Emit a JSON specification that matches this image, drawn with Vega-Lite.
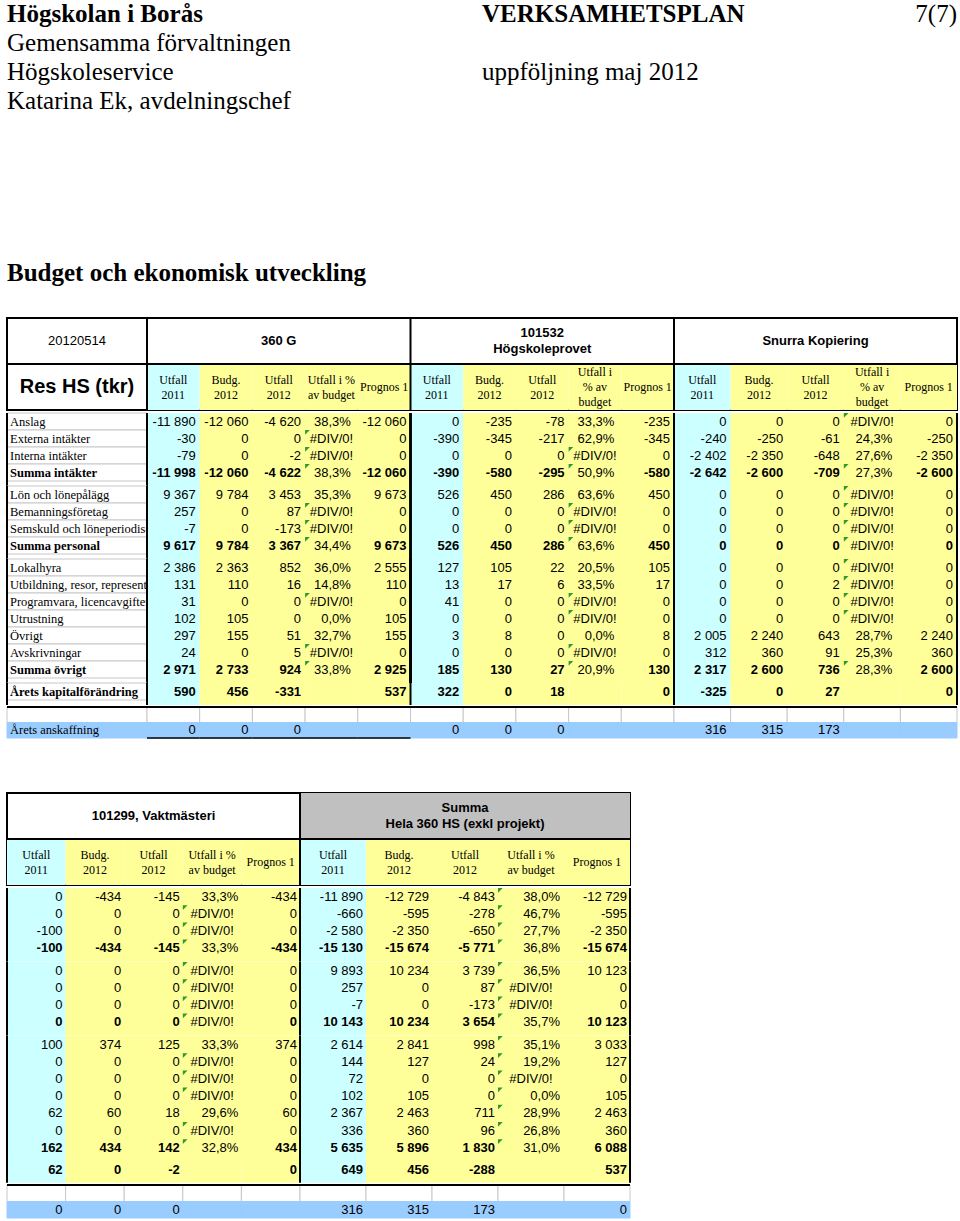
{
"$schema":"https://vega.github.io/schema/vega-lite/v6.json",
"padding":{"left":5,"right":5,"top":0,"bottom":0},
"background":"white",
"config":{"view":{"stroke":null}},
"spacing":0,
"datasets":{
"top":[
{"line":"1","pos":"L","w":"b","t":"Högskolan i Borås"},
{"line":"1","pos":"M","w":"b","t":"VERKSAMHETSPLAN"},
{"line":"1","pos":"R","w":"n","t":"7(7)"},
{"line":"2","pos":"L","w":"n","t":"Gemensamma förvaltningen"},
{"line":"3","pos":"L","w":"n","t":"Högskoleservice"},
{"line":"3","pos":"M","w":"n","t":"uppföljning maj 2012"},
{"line":"4","pos":"L","w":"n","t":"Katarina Ek, avdelningschef"},
{"line":"10","pos":"L","w":"b","t":"Budget och ekonomisk utveckling"}],
"t1h":[
{"r":"h1","key":"lab","t":"20120514"},
{"r":"h1","key":"G3","t":"360 G"},
{"r":"h1","key":"P3","t":["101532","Högskoleprovet"]},
{"r":"h1","key":"S3","t":"Snurra Kopiering"},
{"r":"h2","key":"lab","t":"Res HS (tkr)"},
{"r":"h2","key":"G1","t":["Utfall","2011"]},
{"r":"h2","key":"G2","t":["Budg.","2012"]},
{"r":"h2","key":"G3","t":["Utfall","2012"]},
{"r":"h2","key":"G4","t":["Utfall i %","av budget"]},
{"r":"h2","key":"G5","t":"Prognos 1"},
{"r":"h2","key":"P1","t":["Utfall","2011"]},
{"r":"h2","key":"P2","t":["Budg.","2012"]},
{"r":"h2","key":"P3","t":["Utfall","2012"]},
{"r":"h2","key":"P4","t":["Utfall i","% av","budget"]},
{"r":"h2","key":"P5","t":"Prognos 1"},
{"r":"h2","key":"S1","t":["Utfall","2011"]},
{"r":"h2","key":"S2","t":["Budg.","2012"]},
{"r":"h2","key":"S3","t":["Utfall","2012"]},
{"r":"h2","key":"S4","t":["Utfall i","% av","budget"]},
{"r":"h2","key":"S5","t":"Prognos 1"}],
"t1":[
{"sec":"s1","r":"Anslag","b":0,"tS":1,"G1":"-11 890","G2":"-12 060","G3":"-4 620","G4":"38,3%","G5":"-12 060","P1":"0","P2":"-235","P3":"-78","P4":"33,3%","P5":"-235","S1":"0","S2":"0","S3":"0","S4":"#DIV/0!","S5":"0"},
{"sec":"s1","r":"Externa intäkter","b":0,"tG":1,"G1":"-30","G2":"0","G3":"0","G4":"#DIV/0!","G5":"0","P1":"-390","P2":"-345","P3":"-217","P4":"62,9%","P5":"-345","S1":"-240","S2":"-250","S3":"-61","S4":"24,3%","S5":"-250"},
{"sec":"s1","r":"Interna intäkter","b":0,"tG":1,"tP":1,"G1":"-79","G2":"0","G3":"-2","G4":"#DIV/0!","G5":"0","P1":"0","P2":"0","P3":"0","P4":"#DIV/0!","P5":"0","S1":"-2 402","S2":"-2 350","S3":"-648","S4":"27,6%","S5":"-2 350"},
{"sec":"s1","r":"Summa intäkter","b":1,"tG":1,"tP":1,"tS":1,"G1":"-11 998","G2":"-12 060","G3":"-4 622","G4":"38,3%","G5":"-12 060","P1":"-390","P2":"-580","P3":"-295","P4":"50,9%","P5":"-580","S1":"-2 642","S2":"-2 600","S3":"-709","S4":"27,3%","S5":"-2 600"},
{"sec":"s2","r":"Lön och lönepålägg","b":0,"tS":1,"G1":"9 367","G2":"9 784","G3":"3 453","G4":"35,3%","G5":"9 673","P1":"526","P2":"450","P3":"286","P4":"63,6%","P5":"450","S1":"0","S2":"0","S3":"0","S4":"#DIV/0!","S5":"0"},
{"sec":"s2","r":"Bemanningsföretag","b":0,"tG":1,"tP":1,"tS":1,"G1":"257","G2":"0","G3":"87","G4":"#DIV/0!","G5":"0","P1":"0","P2":"0","P3":"0","P4":"#DIV/0!","P5":"0","S1":"0","S2":"0","S3":"0","S4":"#DIV/0!","S5":"0"},
{"sec":"s2","r":"Semskuld och löneperiodisering","b":0,"tG":1,"tP":1,"tS":1,"G1":"-7","G2":"0","G3":"-173","G4":"#DIV/0!","G5":"0","P1":"0","P2":"0","P3":"0","P4":"#DIV/0!","P5":"0","S1":"0","S2":"0","S3":"0","S4":"#DIV/0!","S5":"0"},
{"sec":"s2","r":"Summa personal","b":1,"tG":1,"tP":1,"tS":1,"G1":"9 617","G2":"9 784","G3":"3 367","G4":"34,4%","G5":"9 673","P1":"526","P2":"450","P3":"286","P4":"63,6%","P5":"450","S1":"0","S2":"0","S3":"0","S4":"#DIV/0!","S5":"0"},
{"sec":"s3","r":"Lokalhyra","b":0,"tS":1,"G1":"2 386","G2":"2 363","G3":"852","G4":"36,0%","G5":"2 555","P1":"127","P2":"105","P3":"22","P4":"20,5%","P5":"105","S1":"0","S2":"0","S3":"0","S4":"#DIV/0!","S5":"0"},
{"sec":"s3","r":"Utbildning, resor, representation","b":0,"tS":1,"G1":"131","G2":"110","G3":"16","G4":"14,8%","G5":"110","P1":"13","P2":"17","P3":"6","P4":"33,5%","P5":"17","S1":"0","S2":"0","S3":"2","S4":"#DIV/0!","S5":"0"},
{"sec":"s3","r":"Programvara, licencavgifter och","b":0,"tG":1,"tP":1,"tS":1,"G1":"31","G2":"0","G3":"0","G4":"#DIV/0!","G5":"0","P1":"41","P2":"0","P3":"0","P4":"#DIV/0!","P5":"0","S1":"0","S2":"0","S3":"0","S4":"#DIV/0!","S5":"0"},
{"sec":"s3","r":"Utrustning","b":0,"tP":1,"tS":1,"G1":"102","G2":"105","G3":"0","G4":"0,0%","G5":"105","P1":"0","P2":"0","P3":"0","P4":"#DIV/0!","P5":"0","S1":"0","S2":"0","S3":"0","S4":"#DIV/0!","S5":"0"},
{"sec":"s3","r":"Övrigt","b":0,"G1":"297","G2":"155","G3":"51","G4":"32,7%","G5":"155","P1":"3","P2":"8","P3":"0","P4":"0,0%","P5":"8","S1":"2 005","S2":"2 240","S3":"643","S4":"28,7%","S5":"2 240"},
{"sec":"s3","r":"Avskrivningar","b":0,"tG":1,"tP":1,"G1":"24","G2":"0","G3":"5","G4":"#DIV/0!","G5":"0","P1":"0","P2":"0","P3":"0","P4":"#DIV/0!","P5":"0","S1":"312","S2":"360","S3":"91","S4":"25,3%","S5":"360"},
{"sec":"s3","r":"Summa övrigt","b":1,"tG":1,"tP":1,"tS":1,"G1":"2 971","G2":"2 733","G3":"924","G4":"33,8%","G5":"2 925","P1":"185","P2":"130","P3":"27","P4":"20,9%","P5":"130","S1":"2 317","S2":"2 600","S3":"736","S4":"28,3%","S5":"2 600"},
{"sec":"s4","r":"Årets kapitalförändring","b":1,"G1":"590","G2":"456","G3":"-331","G4":"","G5":"537","P1":"322","P2":"0","P3":"18","P4":"","P5":"0","S1":"-325","S2":"0","S3":"27","S4":"","S5":"0"}],
"t1s":[
{"r":"blank"},
{"r":"ansk","lbl":"Årets anskaffning","G1":"0","G2":"0","G3":"0","P1":"0","P2":"0","P3":"0","S1":"316","S2":"315","S3":"173"}],
"t2h":[
{"r":"h1","key":"V3","t":"101299, Vaktmästeri"},
{"r":"h1","key":"H1","t":""},
{"r":"h1","key":"H2","t":""},
{"r":"h1","key":"H3","t":["Summa","Hela 360 HS (exkl projekt)"]},
{"r":"h1","key":"H4","t":""},
{"r":"h1","key":"H5","t":""},
{"r":"h2","key":"V1","t":["Utfall","2011"]},
{"r":"h2","key":"V2","t":["Budg.","2012"]},
{"r":"h2","key":"V3","t":["Utfall","2012"]},
{"r":"h2","key":"V4","t":["Utfall i %","av budget"]},
{"r":"h2","key":"V5","t":"Prognos 1"},
{"r":"h2","key":"H1","t":["Utfall","2011"]},
{"r":"h2","key":"H2","t":["Budg.","2012"]},
{"r":"h2","key":"H3","t":["Utfall","2012"]},
{"r":"h2","key":"H4","t":["Utfall i %","av budget"]},
{"r":"h2","key":"H5","t":"Prognos 1"}],
"t2":[
{"sec":"s1","r":"Anslag","b":0,"tH":1,"V1":"0","V2":"-434","V3":"-145","V4":"33,3%","V5":"-434","H1":"-11 890","H2":"-12 729","H3":"-4 843","H4":"38,0%","H5":"-12 729"},
{"sec":"s1","r":"Externa intäkter","b":0,"tV":1,"tH":1,"V1":"0","V2":"0","V3":"0","V4":"#DIV/0!","V5":"0","H1":"-660","H2":"-595","H3":"-278","H4":"46,7%","H5":"-595"},
{"sec":"s1","r":"Interna intäkter","b":0,"tV":1,"tH":1,"V1":"-100","V2":"0","V3":"0","V4":"#DIV/0!","V5":"0","H1":"-2 580","H2":"-2 350","H3":"-650","H4":"27,7%","H5":"-2 350"},
{"sec":"s1","r":"Summa intäkter","b":1,"tV":1,"tH":1,"V1":"-100","V2":"-434","V3":"-145","V4":"33,3%","V5":"-434","H1":"-15 130","H2":"-15 674","H3":"-5 771","H4":"36,8%","H5":"-15 674"},
{"sec":"s2","r":"Lön och lönepålägg","b":0,"tV":1,"tH":1,"V1":"0","V2":"0","V3":"0","V4":"#DIV/0!","V5":"0","H1":"9 893","H2":"10 234","H3":"3 739","H4":"36,5%","H5":"10 123"},
{"sec":"s2","r":"Bemanningsföretag","b":0,"tV":1,"tH":1,"V1":"0","V2":"0","V3":"0","V4":"#DIV/0!","V5":"0","H1":"257","H2":"0","H3":"87","H4":"#DIV/0!","H5":"0"},
{"sec":"s2","r":"Semskuld och löneperiodisering","b":0,"tV":1,"tH":1,"V1":"0","V2":"0","V3":"0","V4":"#DIV/0!","V5":"0","H1":"-7","H2":"0","H3":"-173","H4":"#DIV/0!","H5":"0"},
{"sec":"s2","r":"Summa personal","b":1,"tV":1,"tH":1,"V1":"0","V2":"0","V3":"0","V4":"#DIV/0!","V5":"0","H1":"10 143","H2":"10 234","H3":"3 654","H4":"35,7%","H5":"10 123"},
{"sec":"s3","r":"Lokalhyra","b":0,"tH":1,"V1":"100","V2":"374","V3":"125","V4":"33,3%","V5":"374","H1":"2 614","H2":"2 841","H3":"998","H4":"35,1%","H5":"3 033"},
{"sec":"s3","r":"Utbildning, resor, representation","b":0,"tV":1,"tH":1,"V1":"0","V2":"0","V3":"0","V4":"#DIV/0!","V5":"0","H1":"144","H2":"127","H3":"24","H4":"19,2%","H5":"127"},
{"sec":"s3","r":"Programvara, licencavgifter och","b":0,"tV":1,"tH":1,"V1":"0","V2":"0","V3":"0","V4":"#DIV/0!","V5":"0","H1":"72","H2":"0","H3":"0","H4":"#DIV/0!","H5":"0"},
{"sec":"s3","r":"Utrustning","b":0,"tV":1,"tH":1,"V1":"0","V2":"0","V3":"0","V4":"#DIV/0!","V5":"0","H1":"102","H2":"105","H3":"0","H4":"0,0%","H5":"105"},
{"sec":"s3","r":"Övrigt","b":0,"tH":1,"V1":"62","V2":"60","V3":"18","V4":"29,6%","V5":"60","H1":"2 367","H2":"2 463","H3":"711","H4":"28,9%","H5":"2 463"},
{"sec":"s3","r":"Avskrivningar","b":0,"tV":1,"tH":1,"V1":"0","V2":"0","V3":"0","V4":"#DIV/0!","V5":"0","H1":"336","H2":"360","H3":"96","H4":"26,8%","H5":"360"},
{"sec":"s3","r":"Summa övrigt","b":1,"tV":1,"tH":1,"V1":"162","V2":"434","V3":"142","V4":"32,8%","V5":"434","H1":"5 635","H2":"5 896","H3":"1 830","H4":"31,0%","H5":"6 088"},
{"sec":"s4","r":"Årets kapitalförändring","b":1,"V1":"62","V2":"0","V3":"-2","V4":"","V5":"0","H1":"649","H2":"456","H3":"-288","H4":"","H5":"537"}],
"t2s":[
{"r":"blank"},
{"r":"ansk","V1":"0","V2":"0","V3":"0","H1":"316","H2":"315","H3":"173","H5":"0"}]
},
"vconcat":[
{
"data":{"name":"top"},
"width":950,"height":316,
"encoding":{
"x":{"field":"pos","type":"nominal","axis":null,"scale":{"type":"point","domain":["L","M","R"],"padding":0}},
"y":{"field":"line","type":"nominal","axis":null,"scale":{"type":"band","domain":["1","2","3","4","5","6","7","8","9","10","11"],"paddingInner":0,"paddingOuter":0}},
"text":{"field":"t"}},
"layer":[
{"transform":[{"filter":"datum.w=='b'"}],"mark":{"type":"text","align":"left","baseline":"middle","font":"Liberation Serif","fontSize":25,"fontWeight":"bold"}},
{"transform":[{"filter":"datum.w=='n' && datum.pos!='R'"}],"mark":{"type":"text","align":"left","baseline":"middle","font":"Liberation Serif","fontSize":25}},
{"transform":[{"filter":"datum.pos=='R'"}],"mark":{"type":"text","align":"right","baseline":"middle","font":"Liberation Serif","fontSize":25}}
]
},
{"spacing":50,"vconcat":[
{"spacing":0,"vconcat":[
{
"data":{"name":"t1h"},
"width":950,"height":92,
"view":{"stroke":"black","strokeWidth":2},
"resolve":{"scale":{"x":"independent"}},
"layer":[
{"transform":[{"filter":"datum.r=='h2' && datum.key!='lab' && datum.key<'S'"}],"mark":{"type":"rect"},
"encoding":{"x":{"field":"key","type":"nominal","axis":null,"scale":{"type":"band","domain":["G1","G2","G3","G4","G5","P1","P2","P3","P4","P5"],"range":[140,667],"paddingInner":0,"paddingOuter":0}},
"y":{"field":"r","type":"nominal","axis":null,"scale":{"type":"band","domain":["h1","h2"],"paddingInner":0,"paddingOuter":0}},
"fill":{"condition":{"test":"datum.key=='G1'||datum.key=='P1'||datum.key=='S1'","value":"#ccffff"},"value":"#ffff99"}}},
{"transform":[{"filter":"datum.r=='h2' && datum.key!='lab' && datum.key>='S'"}],"mark":{"type":"rect"},
"encoding":{"x":{"field":"key","type":"nominal","axis":null,"scale":{"type":"band","domain":["S1","S2","S3","S4","S5"],"range":[667,950],"paddingInner":0,"paddingOuter":0}},
"y":{"field":"r","type":"nominal","axis":null,"scale":{"type":"band","domain":["h1","h2"],"paddingInner":0,"paddingOuter":0}},
"fill":{"condition":{"test":"datum.key=='G1'||datum.key=='P1'||datum.key=='S1'","value":"#ccffff"},"value":"#ffff99"}}},
{"transform":[{"filter":"datum.key=='lab' && datum.r=='h1'"}],"mark":{"type":"text","font":"Liberation Sans","fontSize":13},
"encoding":{"x":{"field":"key","type":"nominal","axis":null,"scale":{"type":"band","domain":["lab"],"range":[0,140],"paddingInner":0,"paddingOuter":0}},
"y":{"field":"r","type":"nominal","axis":null,"scale":{"type":"band","domain":["h1","h2"],"paddingInner":0,"paddingOuter":0}},"text":{"field":"t"}}},
{"transform":[{"filter":"datum.key=='lab' && datum.r=='h2'"}],"mark":{"type":"text","font":"Liberation Sans","fontSize":20,"fontWeight":"bold"},
"encoding":{"x":{"field":"key","type":"nominal","axis":null,"scale":{"type":"band","domain":["lab"],"range":[0,140],"paddingInner":0,"paddingOuter":0}},
"y":{"field":"r","type":"nominal","axis":null,"scale":{"type":"band","domain":["h1","h2"],"paddingInner":0,"paddingOuter":0}},"text":{"field":"t"}}},
{"transform":[{"filter":"datum.r=='h1' && datum.key=='G3'"}],"mark":{"type":"text","font":"Liberation Sans","fontSize":13,"fontWeight":"bold"},
"encoding":{"x":{"field":"key","type":"nominal","axis":null,"scale":{"type":"band","domain":["G1","G2","G3","G4","G5","P1","P2","P3","P4","P5"],"range":[140,667],"paddingInner":0,"paddingOuter":0}},
"y":{"field":"r","type":"nominal","axis":null,"scale":{"type":"band","domain":["h1","h2"],"paddingInner":0,"paddingOuter":0}},"text":{"field":"t"}}},
{"transform":[{"filter":"datum.r=='h1' && datum.key=='P3'"}],"mark":{"type":"text","font":"Liberation Sans","fontSize":13,"fontWeight":"bold","lineHeight":16,"dy":-8},
"encoding":{"x":{"field":"key","type":"nominal","axis":null,"scale":{"type":"band","domain":["G1","G2","G3","G4","G5","P1","P2","P3","P4","P5"],"range":[140,667],"paddingInner":0,"paddingOuter":0}},
"y":{"field":"r","type":"nominal","axis":null,"scale":{"type":"band","domain":["h1","h2"],"paddingInner":0,"paddingOuter":0}},"text":{"field":"t"}}},
{"transform":[{"filter":"datum.r=='h1' && datum.key=='S3'"}],"mark":{"type":"text","font":"Liberation Sans","fontSize":13,"fontWeight":"bold"},
"encoding":{"x":{"field":"key","type":"nominal","axis":null,"scale":{"type":"band","domain":["S1","S2","S3","S4","S5"],"range":[667,950],"paddingInner":0,"paddingOuter":0}},
"y":{"field":"r","type":"nominal","axis":null,"scale":{"type":"band","domain":["h1","h2"],"paddingInner":0,"paddingOuter":0}},"text":{"field":"t"}}},
{"transform":[{"filter":"datum.r=='h2' && datum.key!='lab' && datum.key<'S' && datum.key!='G5' && datum.key!='P5' && datum.key!='P4'"}],"mark":{"type":"text","font":"Liberation Serif","fontSize":12,"lineHeight":15,"dy":-7.5},
"encoding":{"x":{"field":"key","type":"nominal","axis":null,"scale":{"type":"band","domain":["G1","G2","G3","G4","G5","P1","P2","P3","P4","P5"],"range":[140,667],"paddingInner":0,"paddingOuter":0}},
"y":{"field":"r","type":"nominal","axis":null,"scale":{"type":"band","domain":["h1","h2"],"paddingInner":0,"paddingOuter":0}},"text":{"field":"t"}}},
{"transform":[{"filter":"datum.r=='h2' && (datum.key=='G5' || datum.key=='P5')"}],"mark":{"type":"text","font":"Liberation Serif","fontSize":12},
"encoding":{"x":{"field":"key","type":"nominal","axis":null,"scale":{"type":"band","domain":["G1","G2","G3","G4","G5","P1","P2","P3","P4","P5"],"range":[140,667],"paddingInner":0,"paddingOuter":0}},
"y":{"field":"r","type":"nominal","axis":null,"scale":{"type":"band","domain":["h1","h2"],"paddingInner":0,"paddingOuter":0}},"text":{"field":"t"}}},
{"transform":[{"filter":"datum.r=='h2' && datum.key=='P4'"}],"mark":{"type":"text","font":"Liberation Serif","fontSize":12,"lineHeight":15,"dy":-15},
"encoding":{"x":{"field":"key","type":"nominal","axis":null,"scale":{"type":"band","domain":["G1","G2","G3","G4","G5","P1","P2","P3","P4","P5"],"range":[140,667],"paddingInner":0,"paddingOuter":0}},
"y":{"field":"r","type":"nominal","axis":null,"scale":{"type":"band","domain":["h1","h2"],"paddingInner":0,"paddingOuter":0}},"text":{"field":"t"}}},
{"transform":[{"filter":"datum.r=='h2' && (datum.key=='S1' || datum.key=='S2' || datum.key=='S3')"}],"mark":{"type":"text","font":"Liberation Serif","fontSize":12,"lineHeight":15,"dy":-7.5},
"encoding":{"x":{"field":"key","type":"nominal","axis":null,"scale":{"type":"band","domain":["S1","S2","S3","S4","S5"],"range":[667,950],"paddingInner":0,"paddingOuter":0}},
"y":{"field":"r","type":"nominal","axis":null,"scale":{"type":"band","domain":["h1","h2"],"paddingInner":0,"paddingOuter":0}},"text":{"field":"t"}}},
{"transform":[{"filter":"datum.r=='h2' && datum.key=='S4'"}],"mark":{"type":"text","font":"Liberation Serif","fontSize":12,"lineHeight":15,"dy":-15},
"encoding":{"x":{"field":"key","type":"nominal","axis":null,"scale":{"type":"band","domain":["S1","S2","S3","S4","S5"],"range":[667,950],"paddingInner":0,"paddingOuter":0}},
"y":{"field":"r","type":"nominal","axis":null,"scale":{"type":"band","domain":["h1","h2"],"paddingInner":0,"paddingOuter":0}},"text":{"field":"t"}}},
{"transform":[{"filter":"datum.r=='h2' && datum.key=='S5'"}],"mark":{"type":"text","font":"Liberation Serif","fontSize":12},
"encoding":{"x":{"field":"key","type":"nominal","axis":null,"scale":{"type":"band","domain":["S1","S2","S3","S4","S5"],"range":[667,950],"paddingInner":0,"paddingOuter":0}},
"y":{"field":"r","type":"nominal","axis":null,"scale":{"type":"band","domain":["h1","h2"],"paddingInner":0,"paddingOuter":0}},"text":{"field":"t"}}},
{"transform":[{"filter":"datum.r=='h2' && datum.key=='lab'"}],"mark":{"type":"rule","stroke":"black","strokeWidth":2},
"encoding":{"y":{"field":"r","type":"nominal","axis":null,"bandPosition":0,"scale":{"type":"band","domain":["h1","h2"],"paddingInner":0,"paddingOuter":0}}}},
{"transform":[{"filter":"datum.r=='h2' && datum.key=='lab'"}],"mark":{"type":"rule","stroke":"black","strokeWidth":2},
"encoding":{"x":{"field":"key","type":"nominal","axis":null,"bandPosition":1,"scale":{"type":"band","domain":["lab"],"range":[0,140],"paddingInner":0,"paddingOuter":0}}}},
{"transform":[{"filter":"datum.r=='h2' && (datum.key=='G5' || datum.key=='P5')"}],"mark":{"type":"rule","stroke":"black","strokeWidth":2},
"encoding":{"x":{"field":"key","type":"nominal","axis":null,"bandPosition":1,"scale":{"type":"band","domain":["G1","G2","G3","G4","G5","P1","P2","P3","P4","P5"],"range":[140,667],"paddingInner":0,"paddingOuter":0}}}}
]
},
{
"data":{"name":"t1"},
"transform":[{"fold":["G1","G2","G3","G4","G5","P1","P2","P3","P4","P5","S1","S2","S3","S4","S5"],"as":["key","v"]}],
"facet":{"row":{"field":"sec","type":"nominal","title":null,"header":{"labels":false,"title":null}}},
"spacing":{"row":0},
"bounds":"flush",
"resolve":{"scale":{"y":"independent","x":"independent"}},
"spec":{
"width":950,"height":{"step":17},
"resolve":{"scale":{"x":"independent"}},
"layer":[
{"transform":[{"filter":"datum.key=='G1'"}],"mark":{"type":"rect","fill":"white","stroke":"#c8c8c8","strokeWidth":1},
"encoding":{"x":{"datum":"lab","type":"nominal","axis":null,"scale":{"type":"band","domain":["lab"],"range":[0,140],"paddingInner":0,"paddingOuter":0}},
"y":{"field":"r","type":"nominal","axis":null,"sort":null,"scale":{"type":"band","paddingInner":0,"paddingOuter":0.147,"align":0}}}},
{"transform":[{"filter":"datum.key=='G1' && datum.b==0"}],"mark":{"type":"text","align":"left","dx":3,"font":"Liberation Serif","fontSize":12.5},
"encoding":{"x":{"datum":"lab","type":"nominal","axis":null,"bandPosition":0,"scale":{"type":"band","domain":["lab"],"range":[0,140],"paddingInner":0,"paddingOuter":0}},
"y":{"field":"r","type":"nominal","axis":null,"sort":null,"scale":{"type":"band","paddingInner":0,"paddingOuter":0.147,"align":0}},"text":{"field":"r"}}},
{"transform":[{"filter":"datum.key=='G1' && datum.b==1"}],"mark":{"type":"text","align":"left","dx":3,"font":"Liberation Serif","fontSize":12.5,"fontWeight":"bold"},
"encoding":{"x":{"datum":"lab","type":"nominal","axis":null,"bandPosition":0,"scale":{"type":"band","domain":["lab"],"range":[0,140],"paddingInner":0,"paddingOuter":0}},
"y":{"field":"r","type":"nominal","axis":null,"sort":null,"scale":{"type":"band","paddingInner":0,"paddingOuter":0.147,"align":0}},"text":{"field":"r"}}},
{"transform":[{"filter":"datum.key<'S'"}],"mark":{"type":"rect"},
"encoding":{"x":{"field":"key","type":"nominal","axis":null,"scale":{"type":"band","domain":["G1","G2","G3","G4","G5","P1","P2","P3","P4","P5"],"range":[140,667],"paddingInner":0,"paddingOuter":0}},
"fill":{"condition":{"test":"datum.key=='G1'||datum.key=='P1'||datum.key=='S1'","value":"#ccffff"},"value":"#ffff99"}}},
{"transform":[{"filter":"datum.key>='S'"}],"mark":{"type":"rect"},
"encoding":{"x":{"field":"key","type":"nominal","axis":null,"scale":{"type":"band","domain":["S1","S2","S3","S4","S5"],"range":[667,950],"paddingInner":0,"paddingOuter":0}},
"fill":{"condition":{"test":"datum.key=='G1'||datum.key=='P1'||datum.key=='S1'","value":"#ccffff"},"value":"#ffff99"}}},
{"transform":[{"filter":"datum.key<'S' && datum.key!='G4' && datum.key!='P4' && datum.b==0"}],"mark":{"type":"text","align":"right","dx":-4,"font":"Liberation Sans","fontSize":13},
"encoding":{"x":{"field":"key","type":"nominal","axis":null,"bandPosition":1,"scale":{"type":"band","domain":["G1","G2","G3","G4","G5","P1","P2","P3","P4","P5"],"range":[140,667],"paddingInner":0,"paddingOuter":0}},
"y":{"field":"r","type":"nominal","axis":null,"sort":null,"scale":{"type":"band","paddingInner":0,"paddingOuter":0.147,"align":0}},"text":{"field":"v"}}},
{"transform":[{"filter":"datum.key<'S' && datum.key!='G4' && datum.key!='P4' && datum.b==1"}],"mark":{"type":"text","align":"right","dx":-4,"font":"Liberation Sans","fontSize":13,"fontWeight":"bold"},
"encoding":{"x":{"field":"key","type":"nominal","axis":null,"bandPosition":1,"scale":{"type":"band","domain":["G1","G2","G3","G4","G5","P1","P2","P3","P4","P5"],"range":[140,667],"paddingInner":0,"paddingOuter":0}},
"y":{"field":"r","type":"nominal","axis":null,"sort":null,"scale":{"type":"band","paddingInner":0,"paddingOuter":0.147,"align":0}},"text":{"field":"v"}}},
{"transform":[{"filter":"(datum.key=='G4' || datum.key=='P4') && datum.v!='#DIV/0!'"}],"mark":{"type":"text","align":"right","dx":-7,"font":"Liberation Sans","fontSize":13},
"encoding":{"x":{"field":"key","type":"nominal","axis":null,"bandPosition":1,"scale":{"type":"band","domain":["G1","G2","G3","G4","G5","P1","P2","P3","P4","P5"],"range":[140,667],"paddingInner":0,"paddingOuter":0}},
"y":{"field":"r","type":"nominal","axis":null,"sort":null,"scale":{"type":"band","paddingInner":0,"paddingOuter":0.147,"align":0}},"text":{"field":"v"}}},
{"transform":[{"filter":"datum.key<'S' && datum.v=='#DIV/0!'"}],"mark":{"type":"text","align":"center","font":"Liberation Sans","fontSize":13},
"encoding":{"x":{"field":"key","type":"nominal","axis":null,"scale":{"type":"band","domain":["G1","G2","G3","G4","G5","P1","P2","P3","P4","P5"],"range":[140,667],"paddingInner":0,"paddingOuter":0}},
"y":{"field":"r","type":"nominal","axis":null,"sort":null,"scale":{"type":"band","paddingInner":0,"paddingOuter":0.147,"align":0}},"text":{"field":"v"}}},
{"transform":[{"filter":"datum.key>='S' && datum.key!='S4' && datum.b==0"}],"mark":{"type":"text","align":"right","dx":-4,"font":"Liberation Sans","fontSize":13},
"encoding":{"x":{"field":"key","type":"nominal","axis":null,"bandPosition":1,"scale":{"type":"band","domain":["S1","S2","S3","S4","S5"],"range":[667,950],"paddingInner":0,"paddingOuter":0}},
"y":{"field":"r","type":"nominal","axis":null,"sort":null,"scale":{"type":"band","paddingInner":0,"paddingOuter":0.147,"align":0}},"text":{"field":"v"}}},
{"transform":[{"filter":"datum.key>='S' && datum.key!='S4' && datum.b==1"}],"mark":{"type":"text","align":"right","dx":-4,"font":"Liberation Sans","fontSize":13,"fontWeight":"bold"},
"encoding":{"x":{"field":"key","type":"nominal","axis":null,"bandPosition":1,"scale":{"type":"band","domain":["S1","S2","S3","S4","S5"],"range":[667,950],"paddingInner":0,"paddingOuter":0}},
"y":{"field":"r","type":"nominal","axis":null,"sort":null,"scale":{"type":"band","paddingInner":0,"paddingOuter":0.147,"align":0}},"text":{"field":"v"}}},
{"transform":[{"filter":"datum.key=='S4' && datum.v!='#DIV/0!'"}],"mark":{"type":"text","align":"right","dx":-8,"font":"Liberation Sans","fontSize":13},
"encoding":{"x":{"field":"key","type":"nominal","axis":null,"bandPosition":1,"scale":{"type":"band","domain":["S1","S2","S3","S4","S5"],"range":[667,950],"paddingInner":0,"paddingOuter":0}},
"y":{"field":"r","type":"nominal","axis":null,"sort":null,"scale":{"type":"band","paddingInner":0,"paddingOuter":0.147,"align":0}},"text":{"field":"v"}}},
{"transform":[{"filter":"datum.key>='S' && datum.v=='#DIV/0!'"}],"mark":{"type":"text","align":"center","font":"Liberation Sans","fontSize":13},
"encoding":{"x":{"field":"key","type":"nominal","axis":null,"scale":{"type":"band","domain":["S1","S2","S3","S4","S5"],"range":[667,950],"paddingInner":0,"paddingOuter":0}},
"y":{"field":"r","type":"nominal","axis":null,"sort":null,"scale":{"type":"band","paddingInner":0,"paddingOuter":0.147,"align":0}},"text":{"field":"v"}}},
{"transform":[{"filter":"(datum.key=='G4' && datum.tG==1) || (datum.key=='P4' && datum.tP==1)"}],"mark":{"type":"point","shape":"M0,0L1,0L0,1Z","filled":true,"fill":"#2e9a2e","size":90,"opacity":1,"strokeWidth":0},
"encoding":{"x":{"field":"key","type":"nominal","axis":null,"bandPosition":0,"scale":{"type":"band","domain":["G1","G2","G3","G4","G5","P1","P2","P3","P4","P5"],"range":[140,667],"paddingInner":0,"paddingOuter":0}},
"y":{"field":"r","type":"nominal","axis":null,"sort":null,"bandPosition":0,"scale":{"type":"band","paddingInner":0,"paddingOuter":0.147,"align":0}}}},
{"transform":[{"filter":"datum.key=='S4' && datum.tS==1"}],"mark":{"type":"point","shape":"M0,0L1,0L0,1Z","filled":true,"fill":"#2e9a2e","size":90,"opacity":1,"strokeWidth":0},
"encoding":{"x":{"field":"key","type":"nominal","axis":null,"bandPosition":0,"scale":{"type":"band","domain":["S1","S2","S3","S4","S5"],"range":[667,950],"paddingInner":0,"paddingOuter":0}},
"y":{"field":"r","type":"nominal","axis":null,"sort":null,"bandPosition":0,"scale":{"type":"band","paddingInner":0,"paddingOuter":0.147,"align":0}}}},
{"transform":[{"filter":"datum.key=='G1'"}],"mark":{"type":"rule","stroke":"black","strokeWidth":2},
"encoding":{"x":{"datum":"lab","type":"nominal","axis":null,"bandPosition":0,"scale":{"type":"band","domain":["lab"],"range":[0,140],"paddingInner":0,"paddingOuter":0}}}},
{"transform":[{"filter":"datum.key=='G1'"}],"mark":{"type":"rule","stroke":"black","strokeWidth":2},
"encoding":{"x":{"datum":"lab","type":"nominal","axis":null,"bandPosition":1,"scale":{"type":"band","domain":["lab"],"range":[0,140],"paddingInner":0,"paddingOuter":0}}}},
{"transform":[{"filter":"datum.key=='G5' || datum.key=='P5'"}],"mark":{"type":"rule","stroke":"black","strokeWidth":2},
"encoding":{"x":{"field":"key","type":"nominal","axis":null,"bandPosition":1,"scale":{"type":"band","domain":["G1","G2","G3","G4","G5","P1","P2","P3","P4","P5"],"range":[140,667],"paddingInner":0,"paddingOuter":0}}}},
{"transform":[{"filter":"datum.key=='S5'"}],"mark":{"type":"rule","stroke":"black","strokeWidth":2},
"encoding":{"x":{"field":"key","type":"nominal","axis":null,"bandPosition":1,"scale":{"type":"band","domain":["S1","S2","S3","S4","S5"],"range":[667,950],"paddingInner":0,"paddingOuter":0}}}}
]
}
},
{
"data":{"name":"t1s"},
"transform":[{"fold":["G1","G2","G3","G4","G5","P1","P2","P3","P4","P5","S1","S2","S3","S4","S5"],"as":["key","v"]}],
"width":950,"height":{"step":15.5},
"resolve":{"scale":{"x":"independent"}},
"layer":[
{"transform":[{"filter":"datum.key=='G1'"}],"mark":{"type":"rect","strokeWidth":1},
"encoding":{"x":{"datum":"lab","type":"nominal","axis":null,"scale":{"type":"band","domain":["lab"],"range":[0,140],"paddingInner":0,"paddingOuter":0}},
"y":{"field":"r","type":"nominal","axis":null,"scale":{"type":"band","domain":["blank","ansk"],"paddingInner":0,"paddingOuter":0}},
"fill":{"condition":{"test":"datum.r=='ansk'","value":"#99ccff"},"value":"white"},
"stroke":{"condition":{"test":"datum.r=='blank'","value":"#c8c8c8"},"value":"#99ccff"}}},
{"transform":[{"filter":"datum.key<'S'"}],"mark":{"type":"rect","strokeWidth":1},
"encoding":{"x":{"field":"key","type":"nominal","axis":null,"scale":{"type":"band","domain":["G1","G2","G3","G4","G5","P1","P2","P3","P4","P5"],"range":[140,667],"paddingInner":0,"paddingOuter":0}},
"y":{"field":"r","type":"nominal","axis":null,"scale":{"type":"band","domain":["blank","ansk"],"paddingInner":0,"paddingOuter":0}},
"fill":{"condition":{"test":"datum.r=='ansk'","value":"#99ccff"},"value":"white"},
"stroke":{"condition":{"test":"datum.r=='blank'","value":"#c8c8c8"},"value":"#99ccff"}}},
{"transform":[{"filter":"datum.key>='S'"}],"mark":{"type":"rect","strokeWidth":1},
"encoding":{"x":{"field":"key","type":"nominal","axis":null,"scale":{"type":"band","domain":["S1","S2","S3","S4","S5"],"range":[667,950],"paddingInner":0,"paddingOuter":0}},
"y":{"field":"r","type":"nominal","axis":null,"scale":{"type":"band","domain":["blank","ansk"],"paddingInner":0,"paddingOuter":0}},
"fill":{"condition":{"test":"datum.r=='ansk'","value":"#99ccff"},"value":"white"},
"stroke":{"condition":{"test":"datum.r=='blank'","value":"#c8c8c8"},"value":"#99ccff"}}},
{"transform":[{"filter":"datum.key=='G1' && datum.r=='ansk'"}],"mark":{"type":"text","align":"left","dx":3,"font":"Liberation Serif","fontSize":12.5},
"encoding":{"x":{"datum":"lab","type":"nominal","axis":null,"bandPosition":0,"scale":{"type":"band","domain":["lab"],"range":[0,140],"paddingInner":0,"paddingOuter":0}},
"y":{"field":"r","type":"nominal","axis":null,"scale":{"type":"band","domain":["blank","ansk"],"paddingInner":0,"paddingOuter":0}},"text":{"field":"lbl"}}},
{"transform":[{"filter":"datum.key<'S' && datum.v!=null"}],"mark":{"type":"text","align":"right","dx":-4,"font":"Liberation Sans","fontSize":13},
"encoding":{"x":{"field":"key","type":"nominal","axis":null,"bandPosition":1,"scale":{"type":"band","domain":["G1","G2","G3","G4","G5","P1","P2","P3","P4","P5"],"range":[140,667],"paddingInner":0,"paddingOuter":0}},
"y":{"field":"r","type":"nominal","axis":null,"scale":{"type":"band","domain":["blank","ansk"],"paddingInner":0,"paddingOuter":0}},"text":{"field":"v"}}},
{"transform":[{"filter":"datum.key>='S' && datum.v!=null"}],"mark":{"type":"text","align":"right","dx":-4,"font":"Liberation Sans","fontSize":13},
"encoding":{"x":{"field":"key","type":"nominal","axis":null,"bandPosition":1,"scale":{"type":"band","domain":["S1","S2","S3","S4","S5"],"range":[667,950],"paddingInner":0,"paddingOuter":0}},
"y":{"field":"r","type":"nominal","axis":null,"scale":{"type":"band","domain":["blank","ansk"],"paddingInner":0,"paddingOuter":0}},"text":{"field":"v"}}},
{"transform":[{"filter":"datum.key=='G1' && datum.r=='blank'"}],"mark":{"type":"rule","stroke":"black","strokeWidth":2},
"encoding":{"y":{"field":"r","type":"nominal","axis":null,"bandPosition":0,"scale":{"type":"band","domain":["blank","ansk"],"paddingInner":0,"paddingOuter":0}}}},
{"transform":[{"filter":"datum.r=='ansk' && datum.key<'P'"}],"mark":{"type":"point","shape":"M-1,0L1,0","filled":false,"stroke":"black","strokeWidth":1.5,"size":2777,"opacity":1},
"encoding":{"x":{"field":"key","type":"nominal","axis":null,"scale":{"type":"band","domain":["G1","G2","G3","G4","G5","P1","P2","P3","P4","P5"],"range":[140,667],"paddingInner":0,"paddingOuter":0}},
"y":{"field":"r","type":"nominal","axis":null,"bandPosition":1,"scale":{"type":"band","domain":["blank","ansk"],"paddingInner":0,"paddingOuter":0}}}}
]
}
]},
{"spacing":0,"vconcat":[
{
"data":{"name":"t2h"},
"width":623,"height":92,
"view":{"stroke":"black","strokeWidth":2},
"resolve":{"scale":{"x":"independent"}},
"layer":[
{"transform":[{"filter":"datum.r=='h2' && datum.key>='V'"}],"mark":{"type":"rect"},
"encoding":{"x":{"field":"key","type":"nominal","axis":null,"scale":{"type":"band","domain":["V1","V2","V3","V4","V5"],"range":[0,293],"paddingInner":0,"paddingOuter":0}},
"y":{"field":"r","type":"nominal","axis":null,"scale":{"type":"band","domain":["h1","h2"],"paddingInner":0,"paddingOuter":0}},
"fill":{"condition":{"test":"datum.key=='V1'||datum.key=='H1'","value":"#ccffff"},"value":"#ffff99"}}},
{"transform":[{"filter":"datum.key<'V'"}],"mark":{"type":"rect"},
"encoding":{"x":{"field":"key","type":"nominal","axis":null,"scale":{"type":"band","domain":["H1","H2","H3","H4","H5"],"range":[293,623],"paddingInner":0,"paddingOuter":0}},
"y":{"field":"r","type":"nominal","axis":null,"scale":{"type":"band","domain":["h1","h2"],"paddingInner":0,"paddingOuter":0}},
"fill":{"condition":[{"test":"datum.r=='h1'","value":"#c0c0c0"},{"test":"datum.key=='V1'||datum.key=='H1'","value":"#ccffff"}],"value":"#ffff99"}}},
{"transform":[{"filter":"datum.r=='h1' && datum.key>='V'"}],"mark":{"type":"text","font":"Liberation Sans","fontSize":13,"fontWeight":"bold"},
"encoding":{"x":{"field":"key","type":"nominal","axis":null,"scale":{"type":"band","domain":["V1","V2","V3","V4","V5"],"range":[0,293],"paddingInner":0,"paddingOuter":0}},
"y":{"field":"r","type":"nominal","axis":null,"scale":{"type":"band","domain":["h1","h2"],"paddingInner":0,"paddingOuter":0}},"text":{"field":"t"}}},
{"transform":[{"filter":"datum.r=='h1' && datum.key<'V'"}],"mark":{"type":"text","font":"Liberation Sans","fontSize":13,"fontWeight":"bold","lineHeight":16,"dy":-8},
"encoding":{"x":{"field":"key","type":"nominal","axis":null,"scale":{"type":"band","domain":["H1","H2","H3","H4","H5"],"range":[293,623],"paddingInner":0,"paddingOuter":0}},
"y":{"field":"r","type":"nominal","axis":null,"scale":{"type":"band","domain":["h1","h2"],"paddingInner":0,"paddingOuter":0}},"text":{"field":"t"}}},
{"transform":[{"filter":"datum.r=='h2' && datum.key>='V' && datum.key!='V5'"}],"mark":{"type":"text","font":"Liberation Serif","fontSize":12,"lineHeight":15,"dy":-7.5},
"encoding":{"x":{"field":"key","type":"nominal","axis":null,"scale":{"type":"band","domain":["V1","V2","V3","V4","V5"],"range":[0,293],"paddingInner":0,"paddingOuter":0}},
"y":{"field":"r","type":"nominal","axis":null,"scale":{"type":"band","domain":["h1","h2"],"paddingInner":0,"paddingOuter":0}},"text":{"field":"t"}}},
{"transform":[{"filter":"datum.r=='h2' && datum.key=='V5'"}],"mark":{"type":"text","font":"Liberation Serif","fontSize":12},
"encoding":{"x":{"field":"key","type":"nominal","axis":null,"scale":{"type":"band","domain":["V1","V2","V3","V4","V5"],"range":[0,293],"paddingInner":0,"paddingOuter":0}},
"y":{"field":"r","type":"nominal","axis":null,"scale":{"type":"band","domain":["h1","h2"],"paddingInner":0,"paddingOuter":0}},"text":{"field":"t"}}},
{"transform":[{"filter":"datum.r=='h2' && datum.key<'V' && datum.key!='H5'"}],"mark":{"type":"text","font":"Liberation Serif","fontSize":12,"lineHeight":15,"dy":-7.5},
"encoding":{"x":{"field":"key","type":"nominal","axis":null,"scale":{"type":"band","domain":["H1","H2","H3","H4","H5"],"range":[293,623],"paddingInner":0,"paddingOuter":0}},
"y":{"field":"r","type":"nominal","axis":null,"scale":{"type":"band","domain":["h1","h2"],"paddingInner":0,"paddingOuter":0}},"text":{"field":"t"}}},
{"transform":[{"filter":"datum.r=='h2' && datum.key=='H5'"}],"mark":{"type":"text","font":"Liberation Serif","fontSize":12},
"encoding":{"x":{"field":"key","type":"nominal","axis":null,"scale":{"type":"band","domain":["H1","H2","H3","H4","H5"],"range":[293,623],"paddingInner":0,"paddingOuter":0}},
"y":{"field":"r","type":"nominal","axis":null,"scale":{"type":"band","domain":["h1","h2"],"paddingInner":0,"paddingOuter":0}},"text":{"field":"t"}}},
{"transform":[{"filter":"datum.r=='h2' && datum.key=='V1'"}],"mark":{"type":"rule","stroke":"black","strokeWidth":2},
"encoding":{"y":{"field":"r","type":"nominal","axis":null,"bandPosition":0,"scale":{"type":"band","domain":["h1","h2"],"paddingInner":0,"paddingOuter":0}}}},
{"transform":[{"filter":"datum.r=='h2' && datum.key=='V5'"}],"mark":{"type":"rule","stroke":"black","strokeWidth":2},
"encoding":{"x":{"field":"key","type":"nominal","axis":null,"bandPosition":1,"scale":{"type":"band","domain":["V1","V2","V3","V4","V5"],"range":[0,293],"paddingInner":0,"paddingOuter":0}}}}
]
},
{
"data":{"name":"t2"},
"transform":[{"fold":["V1","V2","V3","V4","V5","H1","H2","H3","H4","H5"],"as":["key","v"]}],
"facet":{"row":{"field":"sec","type":"nominal","title":null,"header":{"labels":false,"title":null}}},
"spacing":{"row":0},
"bounds":"flush",
"resolve":{"scale":{"y":"independent","x":"independent"}},
"spec":{
"width":623,"height":{"step":17.2},
"resolve":{"scale":{"x":"independent"}},
"layer":[
{"transform":[{"filter":"datum.key=='V1'"}],"mark":{"type":"rect","opacity":0},
"encoding":{"x":{"field":"key","type":"nominal","axis":null,"scale":{"type":"band","domain":["V1","V2","V3","V4","V5"],"range":[0,293],"paddingInner":0,"paddingOuter":0}},
"y":{"field":"r","type":"nominal","axis":null,"sort":null,"scale":{"type":"band","paddingInner":0,"paddingOuter":0.13,"align":0}}}},
{"transform":[{"filter":"datum.key>='V'"}],"mark":{"type":"rect"},
"encoding":{"x":{"field":"key","type":"nominal","axis":null,"scale":{"type":"band","domain":["V1","V2","V3","V4","V5"],"range":[0,293],"paddingInner":0,"paddingOuter":0}},
"fill":{"condition":{"test":"datum.key=='V1'||datum.key=='H1'","value":"#ccffff"},"value":"#ffff99"}}},
{"transform":[{"filter":"datum.key<'V'"}],"mark":{"type":"rect"},
"encoding":{"x":{"field":"key","type":"nominal","axis":null,"scale":{"type":"band","domain":["H1","H2","H3","H4","H5"],"range":[293,623],"paddingInner":0,"paddingOuter":0}},
"fill":{"condition":{"test":"datum.key=='V1'||datum.key=='H1'","value":"#ccffff"},"value":"#ffff99"}}},
{"transform":[{"filter":"datum.key>='V' && datum.key!='V4' && datum.b==0"}],"mark":{"type":"text","align":"right","dx":-3,"font":"Liberation Sans","fontSize":13},
"encoding":{"x":{"field":"key","type":"nominal","axis":null,"bandPosition":1,"scale":{"type":"band","domain":["V1","V2","V3","V4","V5"],"range":[0,293],"paddingInner":0,"paddingOuter":0}},
"y":{"field":"r","type":"nominal","axis":null,"sort":null,"scale":{"type":"band","paddingInner":0,"paddingOuter":0.13,"align":0}},"text":{"field":"v"}}},
{"transform":[{"filter":"datum.key>='V' && datum.key!='V4' && datum.b==1"}],"mark":{"type":"text","align":"right","dx":-3,"font":"Liberation Sans","fontSize":13,"fontWeight":"bold"},
"encoding":{"x":{"field":"key","type":"nominal","axis":null,"bandPosition":1,"scale":{"type":"band","domain":["V1","V2","V3","V4","V5"],"range":[0,293],"paddingInner":0,"paddingOuter":0}},
"y":{"field":"r","type":"nominal","axis":null,"sort":null,"scale":{"type":"band","paddingInner":0,"paddingOuter":0.13,"align":0}},"text":{"field":"v"}}},
{"transform":[{"filter":"datum.key=='V4' && datum.v!='#DIV/0!'"}],"mark":{"type":"text","align":"right","dx":-3,"font":"Liberation Sans","fontSize":13},
"encoding":{"x":{"field":"key","type":"nominal","axis":null,"bandPosition":1,"scale":{"type":"band","domain":["V1","V2","V3","V4","V5"],"range":[0,293],"paddingInner":0,"paddingOuter":0}},
"y":{"field":"r","type":"nominal","axis":null,"sort":null,"scale":{"type":"band","paddingInner":0,"paddingOuter":0.13,"align":0}},"text":{"field":"v"}}},
{"transform":[{"filter":"datum.key>='V' && datum.v=='#DIV/0!'"}],"mark":{"type":"text","align":"center","font":"Liberation Sans","fontSize":13},
"encoding":{"x":{"field":"key","type":"nominal","axis":null,"scale":{"type":"band","domain":["V1","V2","V3","V4","V5"],"range":[0,293],"paddingInner":0,"paddingOuter":0}},
"y":{"field":"r","type":"nominal","axis":null,"sort":null,"scale":{"type":"band","paddingInner":0,"paddingOuter":0.13,"align":0}},"text":{"field":"v"}}},
{"transform":[{"filter":"datum.key<'V' && datum.key!='H4' && datum.b==0"}],"mark":{"type":"text","align":"right","dx":-3,"font":"Liberation Sans","fontSize":13},
"encoding":{"x":{"field":"key","type":"nominal","axis":null,"bandPosition":1,"scale":{"type":"band","domain":["H1","H2","H3","H4","H5"],"range":[293,623],"paddingInner":0,"paddingOuter":0}},
"y":{"field":"r","type":"nominal","axis":null,"sort":null,"scale":{"type":"band","paddingInner":0,"paddingOuter":0.13,"align":0}},"text":{"field":"v"}}},
{"transform":[{"filter":"datum.key<'V' && datum.key!='H4' && datum.b==1"}],"mark":{"type":"text","align":"right","dx":-3,"font":"Liberation Sans","fontSize":13,"fontWeight":"bold"},
"encoding":{"x":{"field":"key","type":"nominal","axis":null,"bandPosition":1,"scale":{"type":"band","domain":["H1","H2","H3","H4","H5"],"range":[293,623],"paddingInner":0,"paddingOuter":0}},
"y":{"field":"r","type":"nominal","axis":null,"sort":null,"scale":{"type":"band","paddingInner":0,"paddingOuter":0.13,"align":0}},"text":{"field":"v"}}},
{"transform":[{"filter":"datum.key=='H4' && datum.v!='#DIV/0!'"}],"mark":{"type":"text","align":"right","dx":-4,"font":"Liberation Sans","fontSize":13},
"encoding":{"x":{"field":"key","type":"nominal","axis":null,"bandPosition":1,"scale":{"type":"band","domain":["H1","H2","H3","H4","H5"],"range":[293,623],"paddingInner":0,"paddingOuter":0}},
"y":{"field":"r","type":"nominal","axis":null,"sort":null,"scale":{"type":"band","paddingInner":0,"paddingOuter":0.13,"align":0}},"text":{"field":"v"}}},
{"transform":[{"filter":"datum.key<'V' && datum.v=='#DIV/0!'"}],"mark":{"type":"text","align":"center","font":"Liberation Sans","fontSize":13},
"encoding":{"x":{"field":"key","type":"nominal","axis":null,"scale":{"type":"band","domain":["H1","H2","H3","H4","H5"],"range":[293,623],"paddingInner":0,"paddingOuter":0}},
"y":{"field":"r","type":"nominal","axis":null,"sort":null,"scale":{"type":"band","paddingInner":0,"paddingOuter":0.13,"align":0}},"text":{"field":"v"}}},
{"transform":[{"filter":"datum.key=='V4' && datum.tV==1"}],"mark":{"type":"point","shape":"M0,0L1,0L0,1Z","filled":true,"fill":"#2e9a2e","size":90,"opacity":1,"strokeWidth":0},
"encoding":{"x":{"field":"key","type":"nominal","axis":null,"bandPosition":0,"scale":{"type":"band","domain":["V1","V2","V3","V4","V5"],"range":[0,293],"paddingInner":0,"paddingOuter":0}},
"y":{"field":"r","type":"nominal","axis":null,"sort":null,"bandPosition":0,"scale":{"type":"band","paddingInner":0,"paddingOuter":0.13,"align":0}}}},
{"transform":[{"filter":"datum.key=='H4' && datum.tH==1"}],"mark":{"type":"point","shape":"M0,0L1,0L0,1Z","filled":true,"fill":"#2e9a2e","size":90,"opacity":1,"strokeWidth":0},
"encoding":{"x":{"field":"key","type":"nominal","axis":null,"bandPosition":0,"scale":{"type":"band","domain":["H1","H2","H3","H4","H5"],"range":[293,623],"paddingInner":0,"paddingOuter":0}},
"y":{"field":"r","type":"nominal","axis":null,"sort":null,"bandPosition":0,"scale":{"type":"band","paddingInner":0,"paddingOuter":0.13,"align":0}}}},
{"transform":[{"filter":"datum.key=='V1'"}],"mark":{"type":"rule","stroke":"black","strokeWidth":2},
"encoding":{"x":{"field":"key","type":"nominal","axis":null,"bandPosition":0,"scale":{"type":"band","domain":["V1","V2","V3","V4","V5"],"range":[0,293],"paddingInner":0,"paddingOuter":0}}}},
{"transform":[{"filter":"datum.key=='V5'"}],"mark":{"type":"rule","stroke":"black","strokeWidth":2},
"encoding":{"x":{"field":"key","type":"nominal","axis":null,"bandPosition":1,"scale":{"type":"band","domain":["V1","V2","V3","V4","V5"],"range":[0,293],"paddingInner":0,"paddingOuter":0}}}},
{"transform":[{"filter":"datum.key=='H5'"}],"mark":{"type":"rule","stroke":"black","strokeWidth":2},
"encoding":{"x":{"field":"key","type":"nominal","axis":null,"bandPosition":1,"scale":{"type":"band","domain":["H1","H2","H3","H4","H5"],"range":[293,623],"paddingInner":0,"paddingOuter":0}}}}
]
}
},
{
"data":{"name":"t2s"},
"transform":[{"fold":["V1","V2","V3","V4","V5","H1","H2","H3","H4","H5"],"as":["key","v"]}],
"width":623,"height":{"step":16.5},
"resolve":{"scale":{"x":"independent"}},
"layer":[
{"transform":[{"filter":"datum.key>='V'"}],"mark":{"type":"rect","strokeWidth":1},
"encoding":{"x":{"field":"key","type":"nominal","axis":null,"scale":{"type":"band","domain":["V1","V2","V3","V4","V5"],"range":[0,293],"paddingInner":0,"paddingOuter":0}},
"y":{"field":"r","type":"nominal","axis":null,"scale":{"type":"band","domain":["blank","ansk"],"paddingInner":0,"paddingOuter":0}},
"fill":{"condition":{"test":"datum.r=='ansk'","value":"#99ccff"},"value":"white"},
"stroke":{"condition":{"test":"datum.r=='blank'","value":"#c8c8c8"},"value":"#99ccff"}}},
{"transform":[{"filter":"datum.key<'V'"}],"mark":{"type":"rect","strokeWidth":1},
"encoding":{"x":{"field":"key","type":"nominal","axis":null,"scale":{"type":"band","domain":["H1","H2","H3","H4","H5"],"range":[293,623],"paddingInner":0,"paddingOuter":0}},
"y":{"field":"r","type":"nominal","axis":null,"scale":{"type":"band","domain":["blank","ansk"],"paddingInner":0,"paddingOuter":0}},
"fill":{"condition":{"test":"datum.r=='ansk'","value":"#99ccff"},"value":"white"},
"stroke":{"condition":{"test":"datum.r=='blank'","value":"#c8c8c8"},"value":"#99ccff"}}},
{"transform":[{"filter":"datum.key>='V' && datum.v!=null"}],"mark":{"type":"text","align":"right","dx":-3,"font":"Liberation Sans","fontSize":13},
"encoding":{"x":{"field":"key","type":"nominal","axis":null,"bandPosition":1,"scale":{"type":"band","domain":["V1","V2","V3","V4","V5"],"range":[0,293],"paddingInner":0,"paddingOuter":0}},
"y":{"field":"r","type":"nominal","axis":null,"scale":{"type":"band","domain":["blank","ansk"],"paddingInner":0,"paddingOuter":0}},"text":{"field":"v"}}},
{"transform":[{"filter":"datum.key<'V' && datum.v!=null"}],"mark":{"type":"text","align":"right","dx":-3,"font":"Liberation Sans","fontSize":13},
"encoding":{"x":{"field":"key","type":"nominal","axis":null,"bandPosition":1,"scale":{"type":"band","domain":["H1","H2","H3","H4","H5"],"range":[293,623],"paddingInner":0,"paddingOuter":0}},
"y":{"field":"r","type":"nominal","axis":null,"scale":{"type":"band","domain":["blank","ansk"],"paddingInner":0,"paddingOuter":0}},"text":{"field":"v"}}},
{"transform":[{"filter":"datum.key=='V1' && datum.r=='blank'"}],"mark":{"type":"rule","stroke":"black","strokeWidth":2},
"encoding":{"y":{"field":"r","type":"nominal","axis":null,"bandPosition":0,"scale":{"type":"band","domain":["blank","ansk"],"paddingInner":0,"paddingOuter":0}}}}
]
}
]}
]}
]
}
